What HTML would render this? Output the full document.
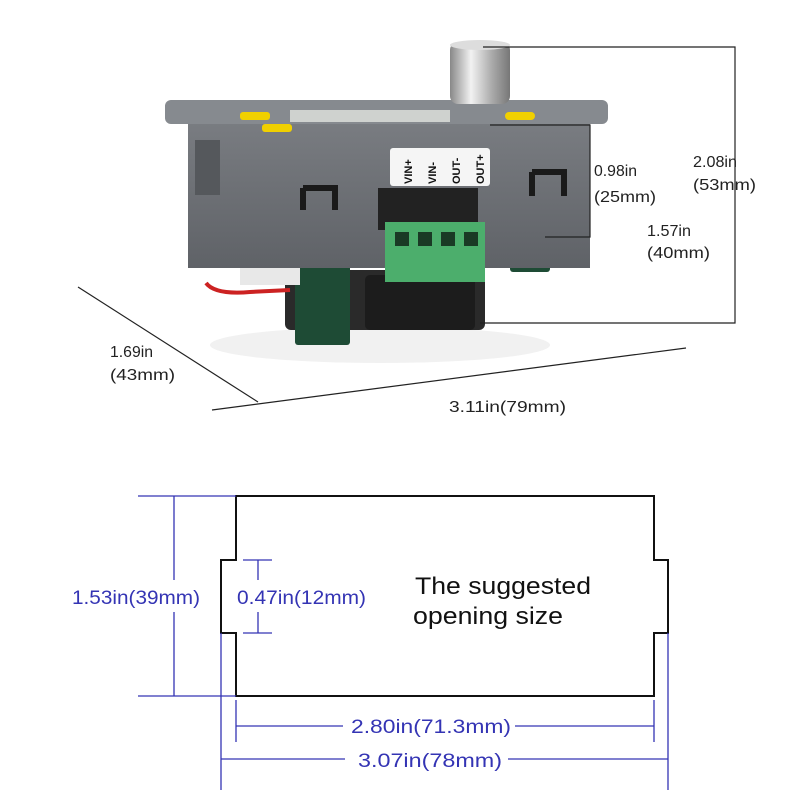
<!DOCTYPE html>
<html><head><style>
body{margin:0;width:800px;height:800px;background:#fff;overflow:hidden;font-family:"Liberation Sans",sans-serif}
svg{position:absolute;left:0;top:0}
</style></head><body>
<svg width="800" height="800" viewBox="0 0 800 800">
<defs>
<linearGradient id="knob" x1="0" x2="1"><stop offset="0" stop-color="#888"/><stop offset="0.35" stop-color="#f2f2f2"/><stop offset="0.7" stop-color="#aaa"/><stop offset="1" stop-color="#777"/></linearGradient>
<linearGradient id="body" x1="0" y1="0" x2="0" y2="1"><stop offset="0" stop-color="#7a7d82"/><stop offset="1" stop-color="#5f6267"/></linearGradient>
</defs>
<ellipse cx="380" cy="345" rx="170" ry="18" fill="#f1f1f1"/>
<rect x="285" y="270" width="200" height="60" fill="#2a2a2a" rx="6"/>
<rect x="365" y="275" width="110" height="55" fill="#1c1c1c" rx="5"/>
<rect x="295" y="265" width="55" height="80" fill="#1e4b35" rx="3"/>
<rect x="510" y="232" width="40" height="40" fill="#1e4b35" rx="3"/>
<path d="M206 283 Q215 295 250 292 L290 290" stroke="#c22" stroke-width="4" fill="none"/>
<rect x="240" y="255" width="60" height="30" fill="#e8e8e8"/>
<rect x="188" y="118" width="402" height="150" fill="url(#body)"/>
<rect x="165" y="100" width="443" height="24" rx="6" fill="#868a8f"/>
<rect x="240" y="112" width="30" height="8" fill="#f0d000" rx="3"/>
<rect x="262" y="124" width="30" height="8" fill="#f0d000" rx="3"/>
<rect x="505" y="112" width="30" height="8" fill="#f0d000" rx="4"/>
<rect x="290" y="110" width="160" height="12" fill="#cfd2cf"/>
<rect x="195" y="140" width="25" height="55" fill="#55585c"/>
<path d="M303 188 V210 M303 188 H335 V210" stroke="#1a1a1a" stroke-width="6" fill="none"/>
<path d="M532 172 V196 M532 172 H564 V196" stroke="#1a1a1a" stroke-width="6" fill="none"/>
<rect x="390" y="148" width="100" height="38" fill="#f5f5f5" rx="3"/>
<g font-size="11" font-weight="bold" fill="#111">
<text transform="translate(412,184) rotate(-90)">VIN+</text>
<text transform="translate(436,184) rotate(-90)">VIN-</text>
<text transform="translate(460,184) rotate(-90)">OUT-</text>
<text transform="translate(484,184) rotate(-90)">OUT+</text>
</g>
<rect x="378" y="188" width="100" height="42" fill="#222"/>
<rect x="385" y="222" width="100" height="60" fill="#4cae6c"/>
<g fill="#1a3a25"><rect x="395" y="232" width="14" height="14"/><rect x="418" y="232" width="14" height="14"/><rect x="441" y="232" width="14" height="14"/><rect x="464" y="232" width="14" height="14"/></g>
<rect x="450" y="42" width="60" height="62" rx="8" fill="url(#knob)"/>
<ellipse cx="480" cy="45" rx="30" ry="5" fill="#ddd"/>
<g stroke="#222" stroke-width="1.2" fill="none">
<path d="M483 47 H735 V323 H480"/>
<path d="M490 125 H590 V237 H545"/>
<path d="M78 287 L258 402"/>
<path d="M212 410 L686 348"/>
</g>
<g font-size="16" fill="#222">
<text x="594" y="176" textLength="43" lengthAdjust="spacingAndGlyphs">0.98in</text><text x="594" y="202" textLength="62" lengthAdjust="spacingAndGlyphs">(25mm)</text>
<text x="647" y="236" textLength="44" lengthAdjust="spacingAndGlyphs">1.57in</text><text x="647" y="258" textLength="63" lengthAdjust="spacingAndGlyphs">(40mm)</text>
<text x="693" y="167" textLength="44" lengthAdjust="spacingAndGlyphs">2.08in</text><text x="693" y="190" textLength="63" lengthAdjust="spacingAndGlyphs">(53mm)</text>
<text x="110" y="357" textLength="43" lengthAdjust="spacingAndGlyphs">1.69in</text><text x="110" y="380" textLength="65" lengthAdjust="spacingAndGlyphs">(43mm)</text>
<text x="449" y="412" textLength="117" lengthAdjust="spacingAndGlyphs">3.11in(79mm)</text>
</g>
<path d="M236 496 H654 V560 H668 V633 H654 V696 H236 V633 H221 V560 H236 Z" fill="none" stroke="#111" stroke-width="2"/>
<g stroke="#3434b4" stroke-width="1.3" fill="none">
<path d="M138 496 H236 M138 696 H236"/>
<path d="M174 496 V580 M174 612 V696"/>
<path d="M258 560 V580 M258 612 V633 M243 560 H272 M243 633 H272"/>
<path d="M236 700 V742 M654 700 V742"/>
<path d="M236 726 H343 M515 726 H654"/>
<path d="M221 633 V790 M668 633 V790"/>
<path d="M221 759 H345 M508 759 H668"/>
</g>
<g font-size="19" fill="#3434b4">
<text x="72" y="604" textLength="128" lengthAdjust="spacingAndGlyphs">1.53in(39mm)</text>
<text x="237" y="604" textLength="129" lengthAdjust="spacingAndGlyphs">0.47in(12mm)</text>
<text x="351" y="733" textLength="160" lengthAdjust="spacingAndGlyphs">2.80in(71.3mm)</text>
<text x="358" y="767" textLength="144" lengthAdjust="spacingAndGlyphs">3.07in(78mm)</text>
</g>
<g font-size="24" fill="#111">
<text x="415" y="594" textLength="176" lengthAdjust="spacingAndGlyphs">The suggested</text>
<text x="413" y="624" textLength="150" lengthAdjust="spacingAndGlyphs">opening size</text>
</g>
</svg>
</body></html>
